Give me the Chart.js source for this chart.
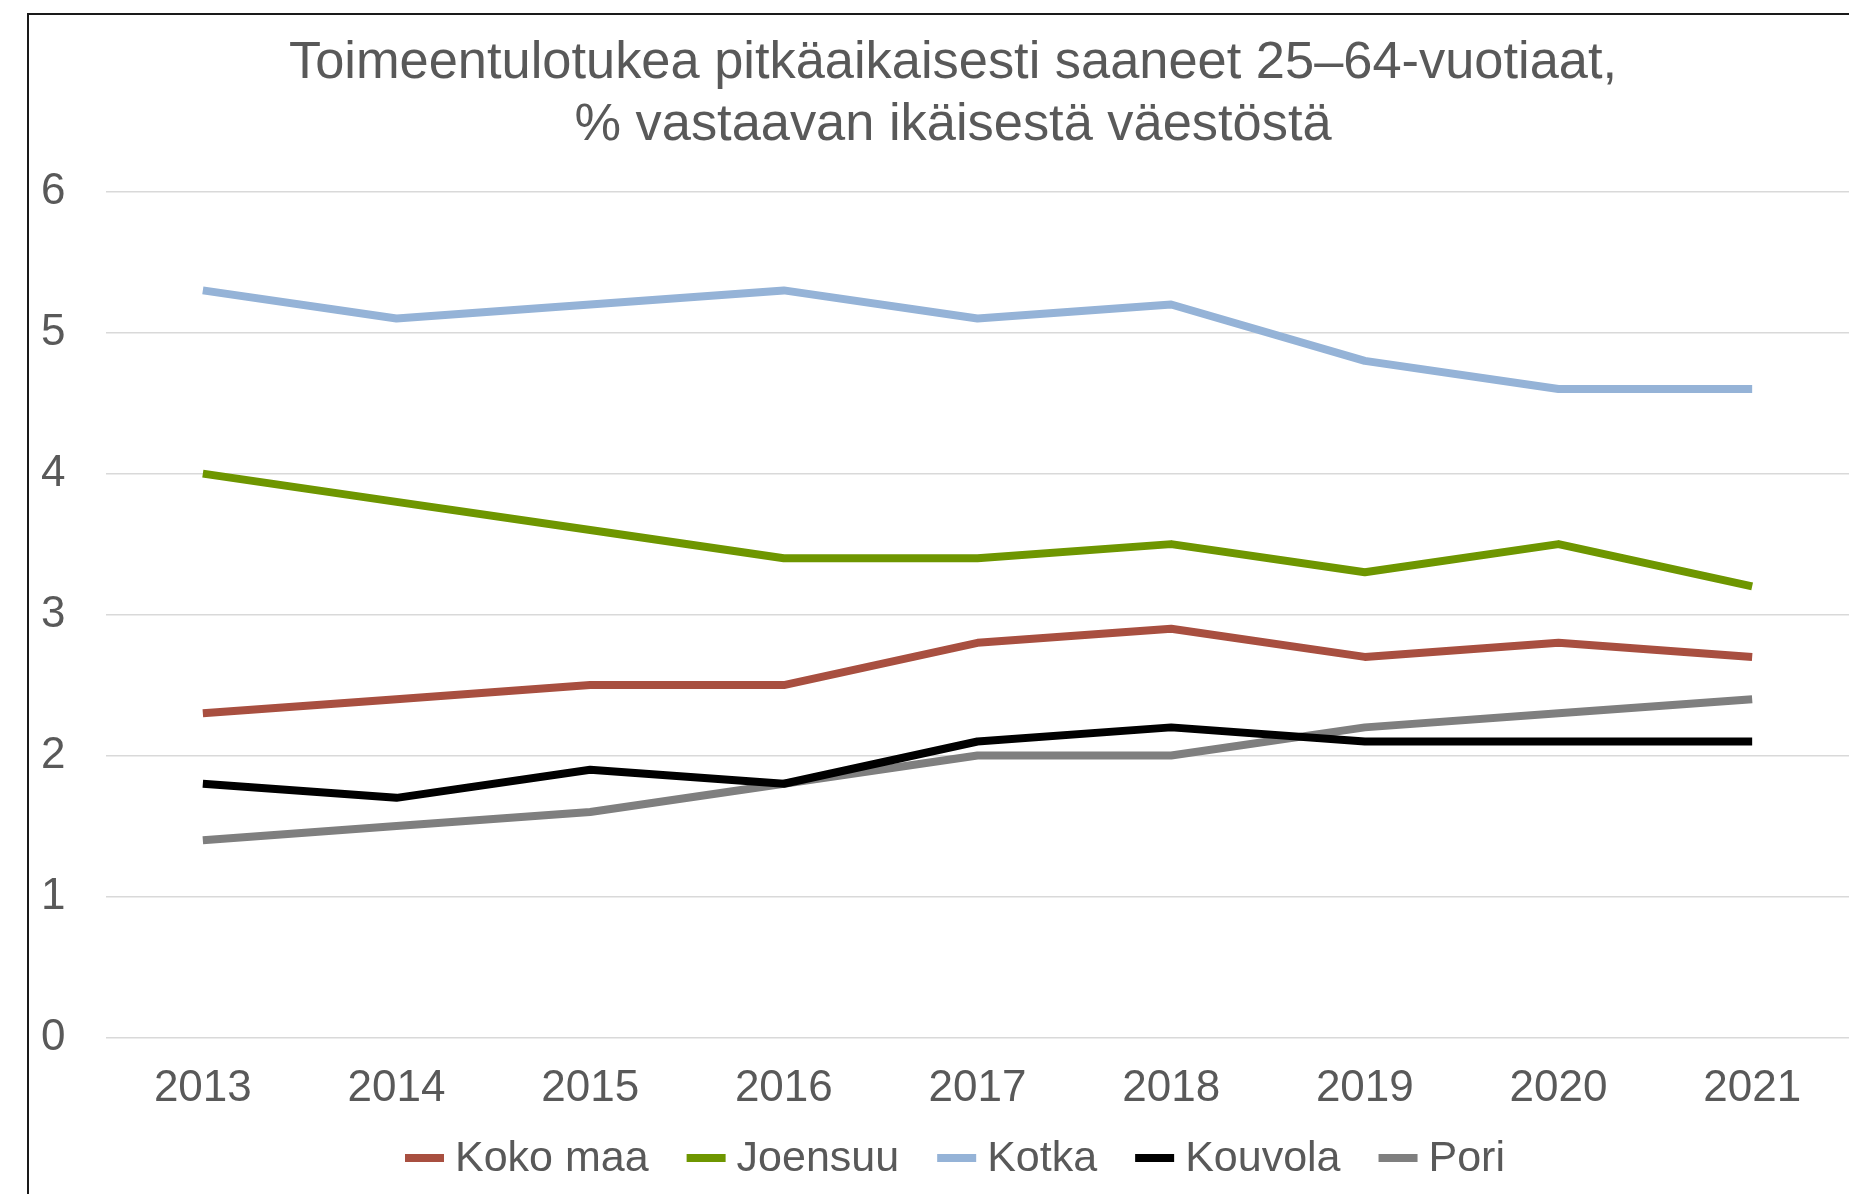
<!DOCTYPE html>
<html lang="fi">
<head>
<meta charset="utf-8">
<title>Toimeentulotukea pitkäaikaisesti saaneet</title>
<script src="https://cdn.jsdelivr.net/npm/chart.js@4/dist/chart.umd.min.js"></script>
<style>
  html, body { margin: 0; padding: 0; background: #fff; }
  #wrap { position: absolute; left: 0; top: 0; width: 1849px; height: 1194px; }
</style>
</head>
<body>
<div id="wrap"><canvas id="grafiikka"></canvas></div>
<script>
const vuodet = ["2013", "2014", "2015", "2016", "2017", "2018", "2019", "2020", "2021"];

const kokoMaa = [2.3, 2.4, 2.5, 2.5, 2.8, 2.9, 2.7, 2.8, 2.7];
const joensuu = [4.0, 3.8, 3.6, 3.4, 3.4, 3.5, 3.3, 3.5, 3.2];
const kotka = [5.3, 5.1, 5.2, 5.3, 5.1, 5.2, 4.8, 4.6, 4.6];
const kouvola = [1.8, 1.7, 1.9, 1.8, 2.1, 2.2, 2.1, 2.1, 2.1];
const pori = [1.4, 1.5, 1.6, 1.8, 2.0, 2.0, 2.2, 2.3, 2.4];

const otsikko = [
  "Toimeentulotukea pitkäaikaisesti saaneet 25–64-vuotiaat,",
  "% vastaavan ikäisestä väestöstä",
];

const tekstinVari = "#595959";
const fontti = "'Liberation Sans', Arial, sans-serif";

function sarja(nimi, data, vari) {
  return {
    label: nimi,
    data: data,
    borderColor: vari,
    backgroundColor: vari,
    borderWidth: 8,
    pointRadius: 0,
    pointHoverRadius: 0,
    tension: 0,
    borderJoinStyle: "round",
    fill: false,
  };
}

// kehys vasemmalle ja ylös, kuten alkuperäisessä kuvassa
const kehys = {
  id: "kehys",
  beforeDraw(chart) {
    const ctx = chart.ctx;
    ctx.save();
    ctx.fillStyle = "#fff";
    ctx.fillRect(0, 0, chart.width, chart.height);
    ctx.restore();
  },
  afterDraw(chart) {
    const ctx = chart.ctx;
    ctx.save();
    ctx.strokeStyle = "#1a1a1a";
    ctx.lineWidth = 2;
    ctx.beginPath();
    ctx.moveTo(28, chart.height);
    ctx.lineTo(28, 14);
    ctx.lineTo(chart.width, 14);
    ctx.stroke();
    ctx.restore();
  },
};

// selite piirretään itse, jotta välit vastaavat alkuperäistä
const selite = {
  id: "selite",
  afterDraw(chart) {
    const ctx = chart.ctx;
    const laatikko = 39;
    const vali = 11;
    const erotin = 38;
    const keskiY = 1158;
    const keskiX = 955;

    ctx.save();
    ctx.font = `43px ${fontti}`;
    ctx.textBaseline = "middle";
    ctx.textAlign = "left";

    const leveydet = chart.data.datasets.map((ds) => laatikko + vali + ctx.measureText(ds.label).width);
    const kokonais = leveydet.reduce((a, b) => a + b, 0) + erotin * (leveydet.length - 1);
    let x = keskiX - kokonais / 2;

    chart.data.datasets.forEach((ds, i) => {
      ctx.fillStyle = ds.borderColor;
      ctx.fillRect(x, keskiY - 4, laatikko, 8);
      ctx.fillStyle = tekstinVari;
      ctx.fillText(ds.label, x + laatikko + vali, keskiY + 1);
      x += leveydet[i] + erotin;
    });
    ctx.restore();
  },
};

Chart.defaults.font.family = fontti;
Chart.defaults.color = tekstinVari;

new Chart(document.getElementById("grafiikka"), {
  type: "line",
  data: {
    labels: vuodet,
    datasets: [
      sarja("Koko maa", kokoMaa, "#A84F40"),
      sarja("Joensuu", joensuu, "#6E9600"),
      sarja("Kotka", kotka, "#95B3D7"),
      sarja("Kouvola", kouvola, "#000000"),
      sarja("Pori", pori, "#7F7F7F"),
    ],
  },
  options: {
    responsive: true,
    maintainAspectRatio: false,
    animation: false,
    layout: {
      padding: { left: 57, right: 0, top: 0, bottom: 0 },
    },
    plugins: {
      title: {
        display: true,
        text: otsikko,
        color: tekstinVari,
        font: { size: 52.4, weight: "normal", lineHeight: 1.19 },
        padding: { top: 32, bottom: 35 },
      },
      legend: { display: false },
      tooltip: { enabled: false },
    },
    scales: {
      x: {
        offset: true,
        grid: { display: false, drawTicks: false },
        border: { display: false },
        ticks: {
          color: tekstinVari,
          font: { size: 44 },
          padding: 24.5,
          maxRotation: 0,
        },
        afterFit(scale) {
          scale.height = 156.5;
        },
      },
      y: {
        min: 0,
        max: 6,
        grid: { color: "#D9D9D9", lineWidth: 1.5, drawTicks: false },
        border: { display: false },
        ticks: {
          stepSize: 1,
          color: tekstinVari,
          font: { size: 44 },
          mirror: true,
          crossAlign: "near",
          padding: -65,
        },
        afterFit(scale) {
          scale.width = 49;
        },
      },
    },
  },
  plugins: [kehys, selite],
});
</script>
</body>
</html>
